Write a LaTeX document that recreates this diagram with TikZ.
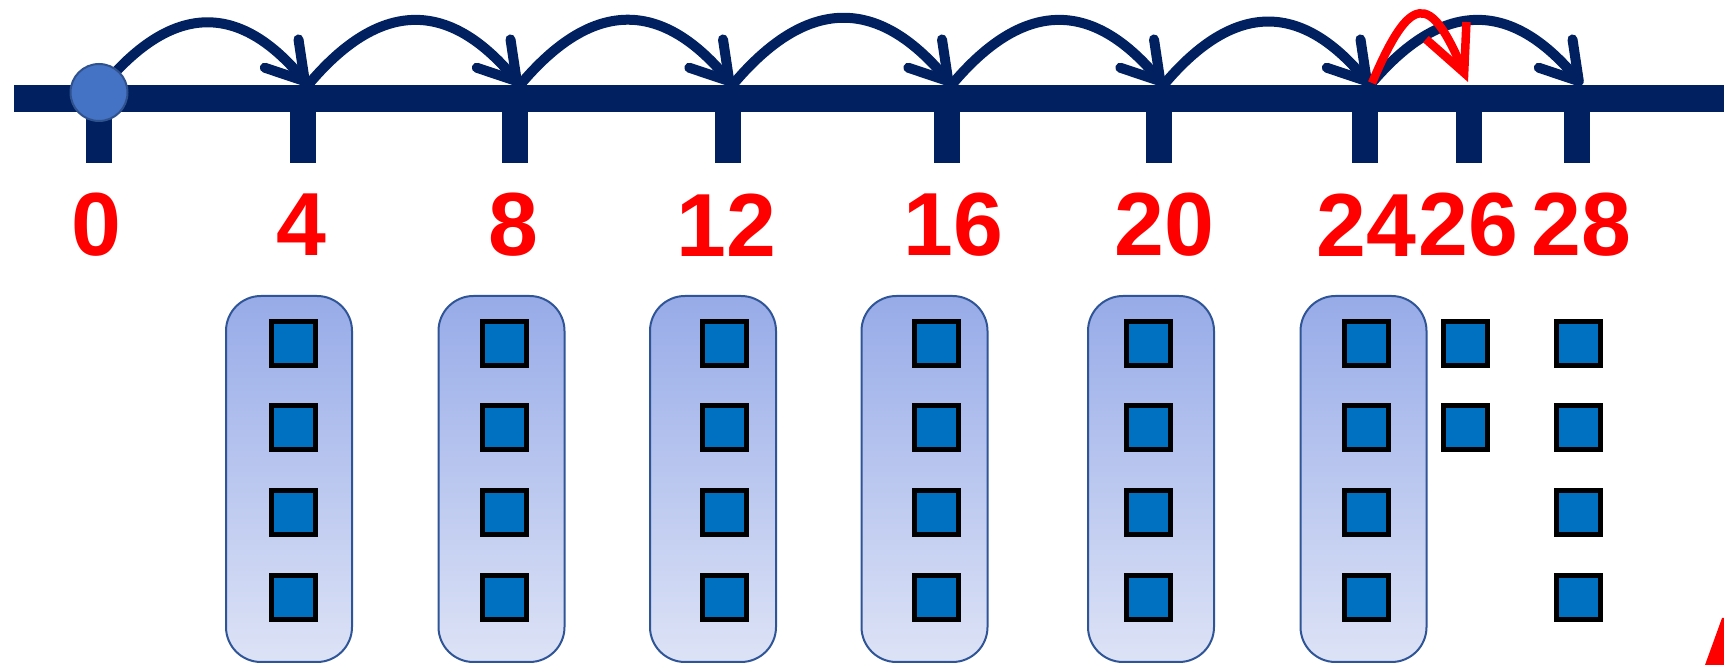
\documentclass[tikz,border=0pt]{standalone}
\usepackage{fontspec}
\setmainfont{Liberation Sans}
\usetikzlibrary{arrows.meta}
\definecolor{navy}{HTML}{002060}
\definecolor{dotblue}{HTML}{4472C4}
\definecolor{dotrim}{HTML}{2F528F}
\definecolor{cubeblue}{HTML}{0070C0}
\definecolor{bartop}{HTML}{97ABE8}
\definecolor{barbot}{HTML}{DDE3F6}
\definecolor{barrim}{HTML}{2F5597}

\begin{document}
\begin{tikzpicture}[>=Stealth,
  jump/.style={navy,line width=1mm,-{Straight Barb[length=3.6mm,width=4.4mm,round]}},
  cube/.style={draw=black,line width=0.5mm,fill=cubeblue,minimum size=4.4mm,inner sep=0pt},
  fourbox/.style={draw=barrim,line width=0.2mm,rounded corners=3.5mm,top color=bartop,
    bottom color=barbot,minimum width=12.6mm,minimum height=36.6mm,inner sep=0pt},
  numlabel/.style={red,font=\bfseries\fontsize{25.5}{30}\selectfont,inner sep=0pt}]
  \useasboundingbox (0,0) rectangle (17.24,-6.65);
  % the number line, its ticks and numbers
  \draw[navy,line width=2.7mm] (0.14,-0.985) -- (17.4,-0.985);
  \foreach \v/\x/\lx in {0/0.99/0.96,4/3.03/3.01,8/5.15/5.13,12/7.275/7.265,16/9.465/9.535,
      20/11.585/11.64,24/13.65/13.66,26/14.69/14.68,28/15.77/15.81}{
    \draw[navy,line width=2.6mm] (\x,-0.985) -- (\x,-1.63);
    \coordinate (t\v) at (\x+0.05,-0.85);
    \node[numlabel] (l\v) at (\lx,-2.25) {\v};
  }
  % jumps of four
  \foreach \a/\b in {0/4,4/8,8/12,12/16,16/20,20/24,24/28}
    \draw[jump] (t\a) to[out=50,in=130,looseness=1.35] (t\b);
  % the start dot
  \node[circle,fill=dotblue,draw=dotrim,line width=0.2mm,minimum size=5.7mm,inner sep=0pt]
    (dot) at (0.99,-0.925) {};
  % the short jump of two
  \draw[red,line width=0.85mm,-{Straight Barb[length=4.6mm,width=4.4mm]}]
    ([xshift=0.2mm,yshift=0.2mm]t24) to[out=67,in=113,looseness=2.6] ([xshift=-0.6mm,yshift=0.3mm]t26);
  % groups of four
  \foreach \i/\gx/\cx in {1/2.89/2.93,2/5.015/5.045,3/7.13/7.245,4/9.245/9.365,
      5/11.51/11.485,6/13.635/13.665}{
    \node[fourbox] (g\i) at (\gx,-4.79) {};
    \foreach \j/\cy in {1/3.435,2/4.275,3/5.125,4/5.975}
      \node[cube] (c\i-\j) at (\cx,-\cy) {};
  }
  % the loose ones
  \foreach \j/\cy in {1/3.435,2/4.275}
    \node[cube] (d\j) at (14.655,-\cy) {};
  \foreach \j/\cy in {1/3.435,2/4.275,3/5.125,4/5.975}
    \node[cube] (e\j) at (15.785,-\cy) {};
  % part of a red mark at the edge
  \fill[red] (17.05,-6.65) -- (17.22,-6.18) -- (17.4,-6.18) -- (17.4,-6.65) -- cycle;
\end{tikzpicture}
\end{document}
